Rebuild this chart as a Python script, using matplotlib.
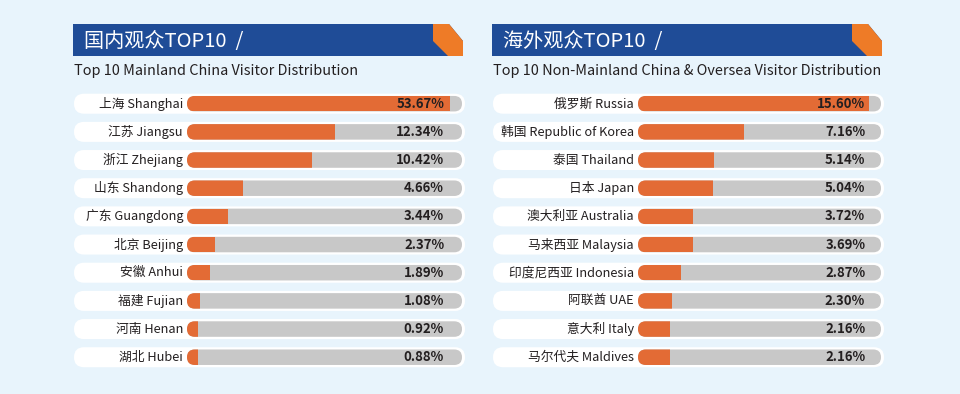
import numpy as np
import matplotlib
matplotlib.use("Agg")
import matplotlib.pyplot as plt
from matplotlib.patches import FancyBboxPatch, Polygon

plt.rcParams["font.family"] = ["Noto Sans CJK SC", "DejaVu Sans"]

# 数据
cn_titles = ["国内观众TOP10  /", "Top 10 Mainland China Visitor Distribution"]
cn_labels = ["上海 Shanghai", "江苏 Jiangsu", "浙江 Zhejiang", "山东 Shandong", "广东 Guangdong",
             "北京 Beijing", "安徽 Anhui", "福建 Fujian", "河南 Henan", "湖北 Hubei"]
cn_values = [53.67, 12.34, 10.42, 4.66, 3.44, 2.37, 1.89, 1.08, 0.92, 0.88]

os_titles = ["海外观众TOP10  /", "Top 10 Non-Mainland China & Oversea Visitor Distribution"]
os_labels = ["俄罗斯 Russia", "韩国 Republic of Korea", "泰国 Thailand", "日本 Japan",
             "澳大利亚 Australia", "马来西亚 Malaysia", "印度尼西亚 Indonesia", "阿联酋 UAE",
             "意大利 Italy", "马尔代夫 Maldives"]
os_values = [15.60, 7.16, 5.14, 5.04, 3.72, 3.69, 2.87, 2.30, 2.16, 2.16]

# 颜色
BG = "#e8f4fc"
BLUE = "#1f4c97"
ORANGE_HDR = "#ee7b27"
ORANGE = "#e36b35"
GREY = "#c8c8c8"
TXT = "#231f20"

W, H = 960, 394
fig = plt.figure(figsize=(W / 100, H / 100), dpi=100, facecolor=BG)
bg = fig.add_axes([0, 0, 1, 1])
bg.set_xlim(0, W)
bg.set_ylim(H, 0)
bg.axis("off")

ROW0, STEP = 103.7, 28.17
PILL_H, TRACK_H = 20, 15.5


def panel(x0, x1, track_x0, label_x, titles, labels, values, xmax, cap=0.955):
    # 标题栏
    bg.add_patch(Polygon([(x0, 24), (x1 - 14, 24), (x1, 41), (x1, 56), (x0, 56)],
                         closed=True, color=BLUE, lw=0))
    ox = x1 - 30
    bg.add_patch(Polygon([(ox, 24), (x1 - 14, 24), (x1, 41), (x1, 56), (ox + 15, 56), (ox, 41)],
                         closed=True, color=ORANGE_HDR, lw=0))
    bg.text(x0 + 11, 41, titles[0], color="white", fontsize=14.5, va="center", ha="left")
    bg.text(x0 + 1, 71, titles[1], color=TXT, fontsize=10.4, va="center", ha="left")

    n = len(values)
    rows = ROW0 + STEP * np.arange(n)
    tracks = []
    for i, y in enumerate(rows):
        bg.add_patch(FancyBboxPatch((x0 + 1, y - PILL_H / 2), x1 - x0 + 1, PILL_H,
                                    boxstyle="round,pad=0,rounding_size=10",
                                    fc="white", ec="none"))
        tr = FancyBboxPatch((track_x0, y - TRACK_H / 2), x1 - 1 - track_x0, TRACK_H,
                            boxstyle="round,pad=0,rounding_size=7.75",
                            fc=GREY, ec="none")
        bg.add_patch(tr)
        tracks.append(tr)
        bg.text(label_x, y, labels[i], color=TXT, fontsize=9.2, ha="right", va="center")

    # 条形
    top = rows[0] - STEP / 2
    bot = rows[-1] + STEP / 2
    ax = fig.add_axes([track_x0 / W, 1 - bot / H, (x1 - 1 - track_x0) / W, (bot - top) / H])
    ax.set_xlim(0, xmax)
    ax.set_ylim(n - 0.5, -0.5)
    ax.axis("off")
    shown = np.minimum(values, cap * xmax)
    bars = ax.barh(np.arange(n), shown, height=TRACK_H / STEP, left=0, color=ORANGE, lw=0)
    for b, tr in zip(bars, tracks):
        b.set_clip_path(tr)
    for i, v in enumerate(values):
        ax.text(xmax * 0.935, i, f"{v:.2f}%", color=TXT, fontsize=9.5, fontweight="bold",
                ha="right", va="center")


panel(73, 463, 187, 183, cn_titles, cn_labels, cn_values, xmax=23.0)
panel(492, 882, 638, 634, os_titles, os_labels, os_values, xmax=16.4)

fig.savefig("out.png", dpi=100, facecolor=BG)
